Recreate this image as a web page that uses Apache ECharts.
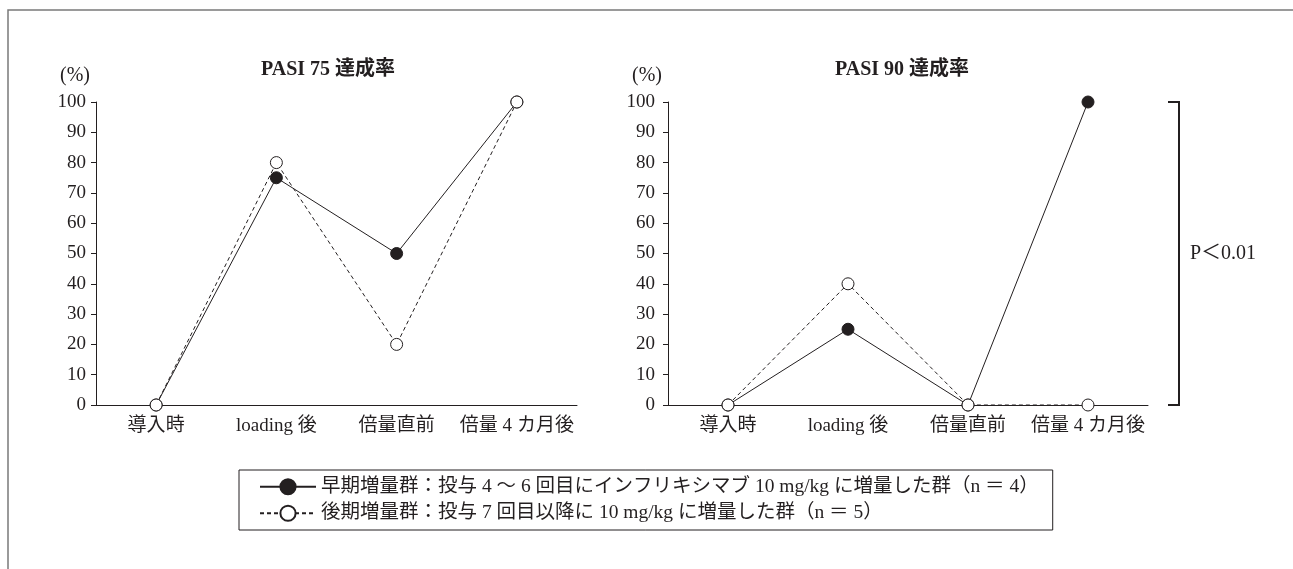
<!DOCTYPE html>
<html>
<head>
<meta charset="utf-8">
<script src="https://cdn.jsdelivr.net/npm/echarts@6/dist/echarts.min.js"></script>
<style>
html,body{margin:0;padding:0;background:#fff;}
#main{width:1293px;height:569px;}
</style>
</head>
<body>
<div id="main"></div>
<script>
const categories = ['導入時', 'loading 後', '倍量直前', '倍量 4 カ月後'];
const pasi75Early = [0, 75, 50, 100];
const pasi75Late = [0, 80, 20, 100];
const pasi90Early = [0, 25, 0, 100];
const pasi90Late = [0, 40, 0, 0];
const chartTitles = ['PASI 75 達成率', 'PASI 90 達成率'];
const yAxisName = '(%)';
const yMin = 0, yMax = 100, yInterval = 10;
const seriesNames = [
  '早期増量群：投与 4 ～ 6 回目にインフリキシマブ 10 mg/kg に増量した群（n ＝ 4）',
  '後期増量群：投与 7 回目以降に 10 mg/kg に増量した群（n ＝ 5）'
];
const pLabel = 'P＜0.01';

const FONT = "'Liberation Serif', 'Noto Sans CJK JP', serif";
const INK = '#231f20';

const chart = echarts.init(document.getElementById('main'), null, {renderer: 'canvas'});

function yAxis(gridIndex, margin) {
  return {
    type: 'value', gridIndex, min: yMin, max: yMax, interval: yInterval,
    name: yAxisName, nameLocation: 'end', nameGap: 16,
    nameTextStyle: {fontFamily: FONT, fontSize: 20, color: INK, align: 'right', padding: [0, 6, 0, 0]},
    axisLine: {show: true, lineStyle: {color: INK, width: 1}},
    axisTick: {show: true, inside: false, length: 5, lineStyle: {color: INK}},
    axisLabel: {fontFamily: FONT, fontSize: 19, color: INK, margin: margin},
    splitLine: {show: false}
  };
}
function xAxis(gridIndex) {
  return {
    type: 'category', gridIndex, data: categories, boundaryGap: true,
    axisLine: {show: true, lineStyle: {color: INK, width: 1}},
    axisTick: {show: false},
    axisLabel: {fontFamily: FONT, fontSize: 19, color: INK, margin: 12, interval: 0}
  };
}
const earlyStyle = {
  type: 'line', symbol: 'circle', symbolSize: 12,
  lineStyle: {color: INK, width: 1, type: 'solid'},
  itemStyle: {color: INK, borderColor: INK, borderWidth: 1},
  z: 2, animation: false
};
const lateStyle = {
  type: 'line', symbol: 'circle', symbolSize: 12,
  lineStyle: {color: INK, width: 1, type: [4, 3]},
  itemStyle: {color: '#fff', borderColor: INK, borderWidth: 1},
  z: 3, animation: false
};

chart.setOption({
  backgroundColor: '#fff',
  animation: false,
  title: [
    {text: chartTitles[0], left: 323, top: 55, textAlign: 'center',
     textStyle: {fontFamily: FONT, fontSize: 20, fontWeight: 'bold', color: INK}},
    {text: chartTitles[1], left: 897, top: 55, textAlign: 'center',
     textStyle: {fontFamily: FONT, fontSize: 20, fontWeight: 'bold', color: INK}}
  ],
  grid: [
    {left: 96, top: 102, width: 481, height: 303},
    {left: 668, top: 102, width: 480, height: 303}
  ],
  xAxis: [xAxis(0), xAxis(1)],
  yAxis: [yAxis(0, 10), yAxis(1, 13)],
  legend: {
    data: seriesNames, orient: 'vertical', left: 239, top: 470,
    borderColor: INK, borderWidth: 1, padding: [7, 14, 7, 20],
    itemWidth: 56, itemHeight: 19, itemGap: 7, selectedMode: false,
    textStyle: {fontFamily: FONT, fontSize: 19.5, color: INK}
  },
  series: [
    Object.assign({name: seriesNames[0], xAxisIndex: 0, yAxisIndex: 0, data: pasi75Early}, earlyStyle),
    Object.assign({name: seriesNames[1], xAxisIndex: 0, yAxisIndex: 0, data: pasi75Late}, lateStyle),
    Object.assign({name: seriesNames[0], xAxisIndex: 1, yAxisIndex: 1, data: pasi90Early}, earlyStyle),
    Object.assign({name: seriesNames[1], xAxisIndex: 1, yAxisIndex: 1, data: pasi90Late}, lateStyle)
  ]
});

// significance bracket tied to the right chart's y scale
const yTop = chart.convertToPixel({yAxisIndex: 1}, yMax);
const yBot = chart.convertToPixel({yAxisIndex: 1}, yMin);
const bx = 1179;
chart.setOption({
  graphic: [
    {type: 'rect', shape: {x: 8, y: 10, width: 1400, height: 700},
     style: {fill: 'none', stroke: '#7a7a7a', lineWidth: 1.5}, silent: true},
    {type: 'polyline', shape: {points: [[bx - 11, yTop], [bx, yTop], [bx, yBot], [bx - 11, yBot]]},
     style: {stroke: INK, lineWidth: 2, fill: 'none'}, silent: true},
    {type: 'text', x: bx + 11, y: (yTop + yBot) / 2,
     style: {text: pLabel, fontFamily: FONT, fontSize: 20, fill: INK, verticalAlign: 'middle', align: 'left'}}
  ]
});
</script>
</body>
</html>
